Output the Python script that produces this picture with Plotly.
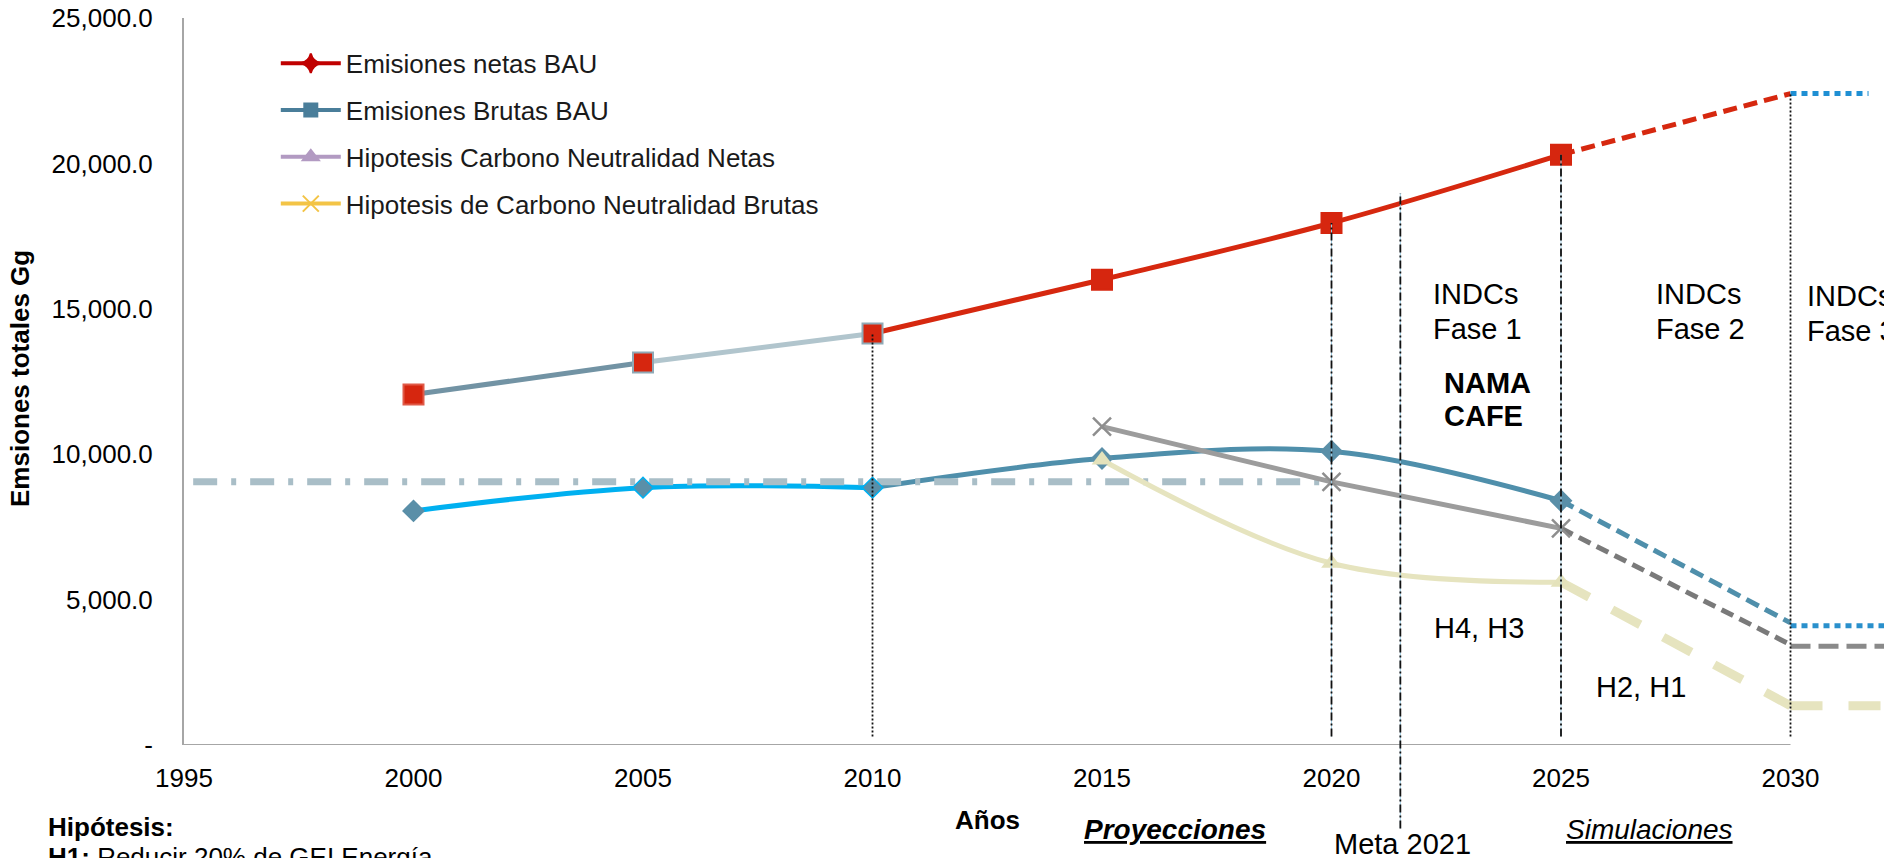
import plotly.graph_objects as go

# data
years = [2000, 2005, 2010, 2015, 2020, 2025, 2030]
netas_bau = [12050, 13150, 14150, 16000, 17950, 20300, 22400]
brutas_bau = [8050, 8850, 8850, 9850, 10100, 8400, 4200]

hip_years = [2015, 2020, 2025, 2030]
hip_netas = [10950, 9050, 7450, 3450]
hip_brutas = [9800, 6250, 5600, 1350]

fase3_years = [2030, 2032.1]
fase3_netas = [22400, 22400]
fase3_brutas = [4100, 4100]
fase3_hip_netas = [3400, 3400]
fase3_hip_brutas = [1350, 1350]

ref_years = [1995.2, 2020]
ref_level = [9050, 9050]

mark_years = [2010, 2020, 2021.5, 2025, 2030]
mark_tops = [14150, 17950, 18970, 20300, 22400]

x_ticks = [1995, 2000, 2005, 2010, 2015, 2020, 2025, 2030]
y_ticks = [0, 5000, 10000, 15000, 20000, 25000]
y_labels = ['-', '5,000.0', '10,000.0', '15,000.0', '20,000.0', '25,000.0']

FONT = 'Liberation Sans, Arial, sans-serif'
W, H = 1884, 858
L, T, B = 184, 17.5, 112.5


def px_x(px):
    return (px - L) / (W - L)


def px_y(py):
    return (H - B - py) / (H - B - T)


fig = go.Figure()


def seg(x, y, color, width=5, dash='solid', shape='linear'):
    fig.add_trace(go.Scatter(x=x, y=y, mode='lines', showlegend=False, hoverinfo='skip',
                             line=dict(color=color, width=width, dash=dash, shape=shape, smoothing=1)))


# Emisiones Brutas BAU (lower line)
seg(years[0:3], brutas_bau[0:3], '#00b0f0', shape='spline')
seg(years[2:6], brutas_bau[2:6], '#4f8fab', shape='spline')
seg(years[5:7], brutas_bau[5:7], '#4f8fab', dash='14px,7px')
seg(fase3_years, fase3_brutas, '#2a90cc', dash='6px,5px')

# reference dash-dot line
seg(ref_years, ref_level, '#a9bec7', width=7, dash='24px,14px,5px,14px')

# hypothesis net (grey)
seg(hip_years[0:3], hip_netas[0:3], '#9c9c9c')
seg(hip_years[2:4], hip_netas[2:4], '#7a7a7a', dash='13px,7px')
seg(fase3_years, fase3_hip_netas, '#8a8a8a', dash='20px,8px')

# hypothesis gross (pale yellow)
seg(hip_years[0:3], hip_brutas[0:3], '#e6e4bf', shape='spline')
seg(hip_years[2:4], hip_brutas[2:4], '#e6e4bf', width=9, dash='32px,26px')
seg(fase3_years, fase3_hip_brutas, '#e6e4bf', width=9, dash='32px,26px')

# Emisiones netas BAU (upper line)
seg(years[0:2], netas_bau[0:2], '#7293a4')
seg(years[1:3], netas_bau[1:3], '#b1c5cd')
seg(years[2:6], netas_bau[2:6], '#d6280f', shape='spline')
seg(years[5:7], netas_bau[5:7], '#d6280f', dash='14px,7px')
seg([2030, 2031.7], fase3_netas, '#1f8fd3', dash='6px,5px')

# markers
fig.add_trace(go.Scatter(x=years[0:6], y=brutas_bau[0:6], mode='markers', showlegend=False, hoverinfo='skip',
                         marker=dict(symbol='diamond', size=16, color='#5a8fa8',
                                     line=dict(color=['#5a8fa8', '#00b0f0', '#00b0f0', '#5a8fa8', '#5a8fa8', '#5a8fa8'],
                                               width=1.5))))
fig.add_trace(go.Scatter(x=hip_years[0:3], y=hip_netas[0:3], mode='markers', showlegend=False, hoverinfo='skip',
                         marker=dict(symbol='x-thin-open', size=18, color='#8e8e8e', line=dict(color='#8e8e8e', width=2.5))))
fig.add_trace(go.Scatter(x=hip_years[0:3], y=hip_brutas[0:3], mode='markers', showlegend=False, hoverinfo='skip',
                         marker=dict(symbol='triangle-up', size=18, color='#e4e2bb')))
fig.add_trace(go.Scatter(x=years[0:6], y=netas_bau[0:6], mode='markers', showlegend=False, hoverinfo='skip',
                         marker=dict(symbol='square', size=20, color='#d6260f',
                                     line=dict(color=['#e05a48', '#8fa9b6', '#8fa9b6', '#d6260f', '#d6260f', '#d6260f'],
                                               width=2))))

# legend entries
legend_items = [
    ('Emisiones netas BAU', '#c00000', 'star-diamond', 14),
    ('Emisiones Brutas BAU', '#4a7e9a', 'square', 13),
    ('Hipotesis Carbono Neutralidad Netas', '#b29ac2', 'triangle-up', 14),
    ('Hipotesis de Carbono Neutralidad Brutas', '#f3c446', 'x-thin-open', 16),
]
for i, (name, color, sym, size) in enumerate(legend_items):
    fig.add_trace(go.Scatter(x=[None], y=[None], mode='lines+markers', name=name, legendgroup=str(i),
                             line=dict(color=color, width=4),
                             marker=dict(symbol=sym, size=size, color=color, line=dict(color=color, width=2))))

# vertical reference lines
styles = {
    2010: ('2px,2px', False),
    2020: ('8px,3px,2px,3px', True),
    2021.5: ('8px,3px,2px,3px', True),
    2025: ('8px,3px,2px,3px', True),
    2030: ('2px,2px', False),
}
for yr, top in zip(mark_years, mark_tops):
    dash, blue = styles[yr]
    y0 = px_y(829) if yr == 2021.5 else 290 / 25000
    if blue:
        fig.add_shape(type='line', xref='x', yref='paper', x0=yr, x1=yr, y0=y0, y1=top / 25000,
                      line=dict(color='#9fcbe2', width=1), layer='above')
    fig.add_shape(type='line', xref='x', yref='paper', x0=yr, x1=yr, y0=y0, y1=top / 25000,
                  line=dict(color='#111111', width=1.8, dash=dash), layer='above')

# x axis baseline (1995-2030)
fig.add_shape(type='line', xref='x', yref='y', x0=x_ticks[0], x1=x_ticks[-1], y0=0, y1=0,
              line=dict(color='#a6a6a6', width=2), layer='below')

# text inside the plot
in_plot = [
    ('INDCs', 2022.17, 293.5, False), ('Fase 1', 2022.17, 328.5, False),
    ('INDCs', 2027.03, 293.5, False), ('Fase 2', 2027.03, 328.5, False),
    ('INDCs', 2030.32, 295.5, False), ('Fase 3', 2030.32, 330.5, False),
    ('NAMA', 2022.41, 383.5, True), ('CAFE', 2022.41, 416.5, True),
    ('H4, H3', 2022.19, 628, False), ('H2, H1', 2025.72, 687, False),
]
for txt, xv, py, bold in in_plot:
    fig.add_annotation(x=xv, y=px_y(py), xref='x', yref='paper', text=txt, showarrow=False,
                       xanchor='left', yanchor='middle',
                       font=dict(family=FONT, size=29, color='black', weight='bold' if bold else 'normal'))

# text below the plot
below = [
    ('Años', 987, 821, 'center', dict(size=26, weight='bold')),
    ('Proyecciones', 1175, 830, 'center', dict(size=28, weight='bold', style='italic', lineposition='under')),
    ('Meta 2021', 1402, 845, 'center', dict(size=29)),
    ('Simulaciones', 1649, 830, 'center', dict(size=28, style='italic', lineposition='under')),
    ('Hipótesis:', 46, 828, 'left', dict(size=26, weight='bold')),
    ('<b>H1:</b> Reducir 20% de GEI Energía', 46, 858, 'left', dict(size=26)),
]
for txt, px, py, anchor, f in below:
    fig.add_annotation(x=px_x(px), y=px_y(py), xref='paper', yref='paper', text=txt, showarrow=False,
                       xanchor=anchor, yanchor='middle', font=dict(family=FONT, color='black', **f))

fig.add_annotation(x=px_x(20), y=px_y(379), xref='paper', yref='paper', text='Emsiones totales Gg',
                   textangle=-90, showarrow=False, xanchor='center', yanchor='middle',
                   font=dict(family=FONT, size=26, color='black', weight='bold'))

fig.update_layout(
    width=W, height=H,
    margin=dict(l=L, r=0, t=T, b=B, autoexpand=False),
    plot_bgcolor='white', paper_bgcolor='white',
    font=dict(family=FONT, size=26, color='black'),
    legend=dict(x=0.054, y=0.97, xanchor='left', yanchor='top', bgcolor='rgba(0,0,0,0)',
                font=dict(family=FONT, size=26, color='#1a1a1a'), itemwidth=60, tracegroupgap=10),
    xaxis=dict(range=[1995, 1995 + (W - L) / 45.9], tickvals=x_ticks, ticktext=[str(v) for v in x_ticks],
               showgrid=False, zeroline=False, showline=False, ticks='', ticklabelstandoff=15,
               automargin=False, tickfont=dict(family=FONT, size=26, color='black')),
    yaxis=dict(range=[0, 25000], tickvals=y_ticks, ticktext=y_labels, showgrid=False, zeroline=False,
               showline=True, linecolor='#a6a6a6', linewidth=2, ticks='', ticklabelstandoff=24,
               automargin=False, tickfont=dict(family=FONT, size=26, color='black')),
)

fig.write_html("out.html", config={'displayModeBar': False},
               post_script="document.body.style.margin='0';document.body.style.overflow='hidden';")
